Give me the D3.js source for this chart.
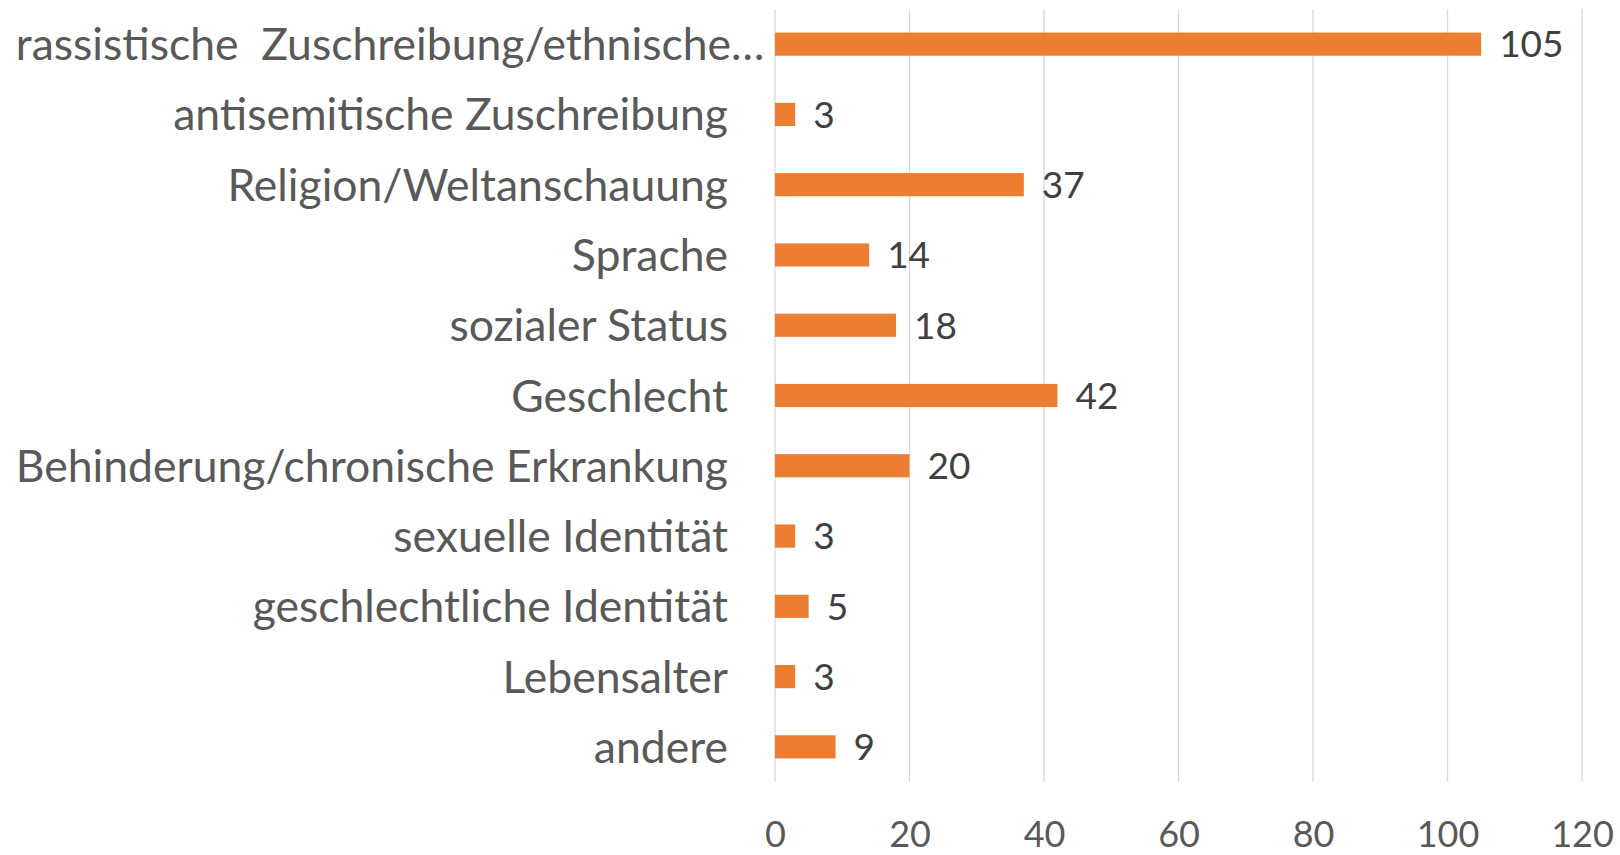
<!DOCTYPE html>
<html>
<head>
<meta charset="utf-8">
<script src="https://cdnjs.cloudflare.com/ajax/libs/d3/7.8.5/d3.min.js"></script>
<style>
  html, body { margin: 0; padding: 0; background: #fff; }
  svg text { font-family: Lato, "Open Sans", sans-serif; white-space: pre; }
</style>
</head>
<body>
<div id="chart"></div>
<script>
'use strict';

var categories = [
	'rassistische  Zuschreibung/ethnische…',
	'antisemitische Zuschreibung',
	'Religion/Weltanschauung',
	'Sprache',
	'sozialer Status',
	'Geschlecht',
	'Behinderung/chronische Erkrankung',
	'sexuelle Identität',
	'geschlechtliche Identität',
	'Lebensalter',
	'andere'
];
var values = [105, 3, 37, 14, 18, 42, 20, 3, 5, 3, 9];
var tickValues = [0, 20, 40, 60, 80, 100, 120];

var W = 1620, H = 855;
var margin = {top: 9, right: 38, bottom: 73, left: 775};
var width = W - margin.left - margin.right;
var height = H - margin.top - margin.bottom;

var svg = d3.select('#chart').append('svg')
	.attr('width', W)
	.attr('height', H);

var g = svg.append('g')
	.attr('transform', 'translate(' + margin.left + ',' + margin.top + ')');

var x = d3.scaleLinear()
	.domain([0, 120])
	.range([0, width]);

var y = d3.scaleBand()
	.domain(categories)
	.range([0, height])
	.paddingInner(0.67)
	.paddingOuter(0.335);

// gridlines
g.append('g')
	.attr('class', 'grid')
	.selectAll('line')
	.data(tickValues)
	.enter()
	.append('line')
	.attr('x1', function(d){ return x(d); })
	.attr('x2', function(d){ return x(d); })
	.attr('y1', 0)
	.attr('y2', height)
	.attr('stroke', '#d9d9d9')
	.attr('stroke-width', 1.3);

// x axis labels
var xAxis = d3.axisBottom(x).tickValues(tickValues).tickSize(0).tickPadding(0);
var ax = g.append('g')
	.attr('transform', 'translate(0,' + height + ')')
	.call(xAxis);
ax.select('.domain').remove();
ax.selectAll('text')
	.attr('y', 52)
	.attr('dy', '0.35em')
	.attr('fill', '#595959')
	.style('font-size', '36px');

// bars
g.append('g')
	.selectAll('rect')
	.data(values)
	.enter()
	.append('rect')
	.attr('x', x(0))
	.attr('y', function(d, i){ return y(categories[i]); })
	.attr('width', function(d){ return x(d) - x(0); })
	.attr('height', y.bandwidth())
	.attr('fill', '#ed7d31');

// value labels
g.append('g')
	.selectAll('text')
	.data(values)
	.enter()
	.append('text')
	.attr('x', function(d){ return x(d) + 18; })
	.attr('y', function(d, i){ return y(categories[i]) + y.bandwidth() / 2; })
	.attr('dy', '0.36em')
	.attr('fill', '#404040')
	.style('font-size', '37px')
	.text(function(d){ return d; });

// category labels
var labelX = -47;
var labels = g.append('g')
	.selectAll('text')
	.data(categories)
	.enter()
	.append('text')
	.attr('x', labelX)
	.attr('y', function(d){ return y(d) + y.bandwidth() / 2; })
	.attr('dy', '0.36em')
	.attr('text-anchor', 'end')
	.attr('fill', '#595959')
	.style('font-size', '44.5px')
	.text(function(d){ return d; });

// truncated label starts at the left edge of the label area
var maxW = 0;
labels.each(function(d){
	if (d.slice(-1) !== '…') maxW = Math.max(maxW, this.getComputedTextLength());
});
labels.filter(function(d){ return d.slice(-1) === '…'; })
	.attr('text-anchor', 'start')
	.attr('x', labelX - maxW);
</script>
</body>
</html>
